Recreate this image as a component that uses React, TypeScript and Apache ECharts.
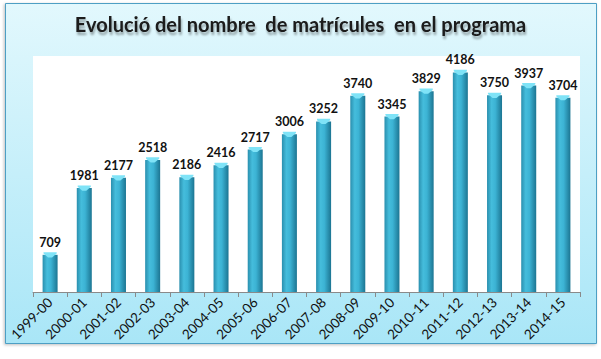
import React, { useEffect, useRef } from "react";
import * as echarts from "echarts";

const categories = ["1999-00","2000-01","2001-02","2002-03","2003-04","2004-05","2005-06","2006-07","2007-08","2008-09","2009-10","2010-11","2011-12","2012-13","2013-14","2014-15"];
const values = [709,1981,2177,2518,2186,2416,2717,3006,3252,3740,3345,3829,4186,3750,3937,3704];
const titleText = "Evolució del nombre  de matrícules  en el programa";

export default function App() {
  const ref = useRef<HTMLDivElement>(null);
  useEffect(() => {
    if (!ref.current) return;
    const chart = echarts.init(ref.current, null, { renderer: "svg" });
    const barGrad = new echarts.graphic.LinearGradient(0, 0, 1, 0, [
      { offset: 0, color: "#2a8fae" },
      { offset: 0.3, color: "#45bddc" },
      { offset: 0.55, color: "#3cb3d4" },
      { offset: 1, color: "#1c7592" },
    ]);
    chart.setOption({
      animation: false,
      graphic: [
        {
          type: "rect",
          shape: { x: 5.5, y: 3.5, width: 591, height: 340 },
          style: {
            fill: new echarts.graphic.LinearGradient(0, 0, 0, 1, [
              { offset: 0, color: "#e2f8fd" },
              { offset: 1, color: "#a9e6f7" },
            ]),
            stroke: "#4e9fc4",
            lineWidth: 1,
            shadowColor: "rgba(0,0,0,0.25)",
            shadowBlur: 3,
            shadowOffsetX: -1,
            shadowOffsetY: 1,
          },
          z: -10,
        },
        {
          type: "rect",
          shape: { x: 33, y: 56, width: 547, height: 236 },
          style: { fill: "#ffffff" },
          z: -9,
        },
      ],
      title: {
        text: titleText,
        left: "center",
        top: 9,
        textStyle: {
          fontFamily: "Lato",
          fontSize: 20,
          fontWeight: "bold",
          color: "#1a1a1a",
          textShadowColor: "rgba(0,0,0,0.35)",
          textShadowBlur: 2,
          textShadowOffsetX: 1,
          textShadowOffsetY: 3,
        },
      },
      grid: { left: 33, top: 56, right: 21, bottom: 67, containLabel: false },
      xAxis: {
        type: "category",
        data: categories,
        axisLine: { show: true, lineStyle: { color: "#8a8a8a", width: 1 } },
        axisTick: { show: true, length: 5, lineStyle: { color: "#8a8a8a" } },
        axisLabel: {
          rotate: 45,
          fontFamily: "Lato",
          fontSize: 13.5,
          color: "#111",
          margin: 8,
          interval: 0,
        },
      },
      yAxis: {
        type: "value",
        min: 0,
        max: 4500,
        show: false,
        splitLine: { show: false },
      },
      series: [
        {
          type: "bar",
          data: values,
          barWidth: 15,
          itemStyle: { color: barGrad },
          label: {
            show: true,
            position: "top",
            distance: 6,
            fontFamily: "Lato",
            fontWeight: "bold",
            fontSize: 12.5,
            color: "#111",
          },
        },
        {
          type: "pictorialBar",
          data: values,
          barGap: "-100%",
          symbol: "path://M0,0 L20,0 L20,2 L13,8 L7,8 L0,2 Z",
          symbolSize: [13, 5],
          symbolPosition: "end",
          symbolOffset: [0, "-50%"],
          itemStyle: { color: "#7fe3f7" },
          z: 3,
          silent: true,
        },
      ],
    });
    return () => chart.dispose();
  }, []);
  return (
    <div
      ref={ref}
      style={{ position: "fixed", left: 0, top: 0, width: 601, height: 359, background: "#ffffff" }}
    />
  );
}
